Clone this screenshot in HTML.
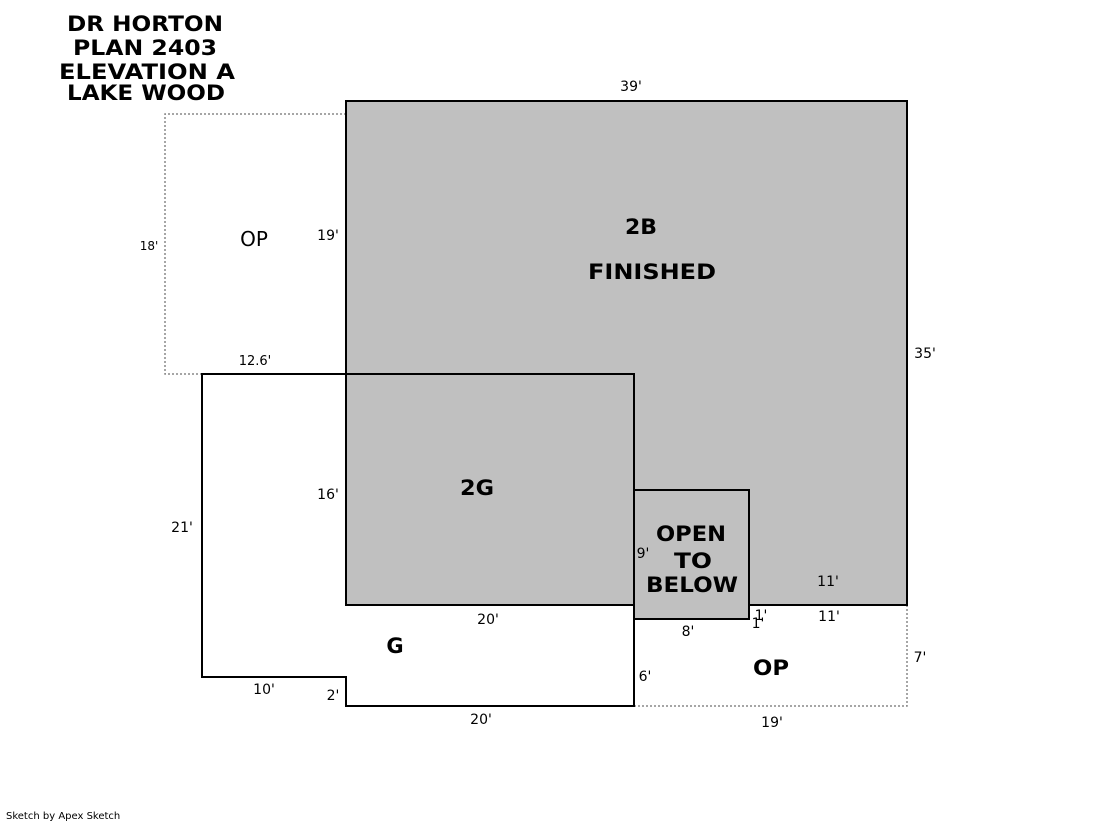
<!DOCTYPE html>
<html><head><style>
html,body{margin:0;padding:0;background:#fff;width:1119px;height:821px;overflow:hidden}
svg{display:block}
text{font-family:"DejaVu Sans","Liberation Sans",sans-serif;fill:#000}
.d{font-size:14px}
.b{font-size:21px;font-weight:bold}
</style></head><body>
<svg width="1119" height="821" viewBox="0 0 1119 821">
<g fill="none" stroke="#888" stroke-width="1.5" stroke-dasharray="2,2">
<polyline points="346,114 165,114 165,374 202,374"/>
<polyline points="907,605 907,706 634,706"/>
</g>
<rect x="346" y="101" width="561" height="504" fill="#c0c0c0" stroke="#000" stroke-width="2"/>
<polyline points="346,374 202,374 202,677 346,677 346,706 634,706 634,605" fill="none" stroke="#000" stroke-width="2"/>
<rect x="346" y="374" width="288" height="231" fill="#c0c0c0" stroke="#000" stroke-width="2"/>
<rect x="634" y="490" width="115" height="129" fill="#c0c0c0" stroke="#000" stroke-width="2"/>
<g class="b" text-anchor="middle" lengthAdjust="spacingAndGlyphs">
<text x="145" y="31" textLength="156" lengthAdjust="spacingAndGlyphs">DR HORTON</text>
<text x="145" y="55" textLength="144" lengthAdjust="spacingAndGlyphs">PLAN 2403</text>
<text x="147" y="79" textLength="176" lengthAdjust="spacingAndGlyphs">ELEVATION A</text>
<text x="146" y="100" textLength="158" lengthAdjust="spacingAndGlyphs">LAKE WOOD</text>
<text x="641" y="234" textLength="32" lengthAdjust="spacingAndGlyphs">2B</text>
<text x="652" y="279" textLength="128" lengthAdjust="spacingAndGlyphs">FINISHED</text>
<text x="477" y="495" textLength="34" lengthAdjust="spacingAndGlyphs">2G</text>
<text x="691" y="541" textLength="70" lengthAdjust="spacingAndGlyphs">OPEN</text>
<text x="693" y="568" textLength="38" lengthAdjust="spacingAndGlyphs">TO</text>
<text x="692" y="592" textLength="92" lengthAdjust="spacingAndGlyphs">BELOW</text>
<text x="395" y="653">G</text>
<text x="771" y="675" textLength="36" lengthAdjust="spacingAndGlyphs">OP</text>
</g>
<text x="254" y="246" font-size="20" text-anchor="middle">OP</text>
<g class="d" text-anchor="middle">
<text x="631" y="91">39'</text>
<text x="328" y="240">19'</text>
<text x="925" y="358">35'</text>
<text x="255" y="365" font-size="13">12.6'</text>
<text x="149" y="250" font-size="12">18'</text>
<text x="328" y="499">16'</text>
<text x="182" y="532">21'</text>
<text x="643" y="558">9'</text>
<text x="828" y="586">11'</text>
<text x="829" y="621">11'</text>
<text x="761" y="620">1'</text>
<text x="758" y="628">1'</text>
<text x="688" y="636">8'</text>
<text x="488" y="624">20'</text>
<text x="645" y="681">6'</text>
<text x="920" y="662">7'</text>
<text x="264" y="694">10'</text>
<text x="333" y="700">2'</text>
<text x="481" y="724">20'</text>
<text x="772" y="727">19'</text>
</g>
<text x="6" y="819" font-size="10" font-family="Liberation Sans,sans-serif">Sketch by Apex Sketch</text>
</svg>
</body></html>
